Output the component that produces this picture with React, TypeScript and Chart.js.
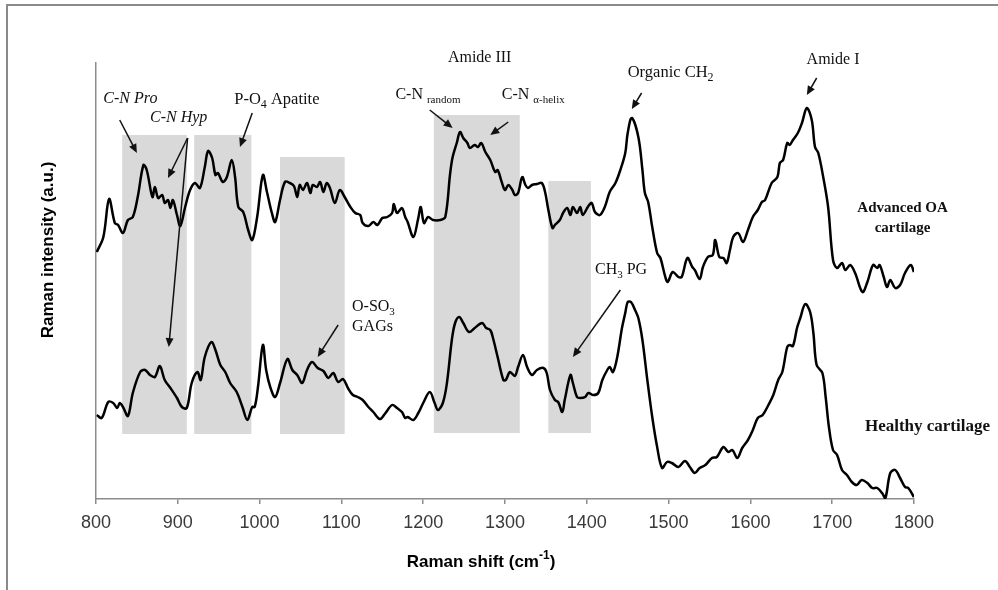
import React, { useEffect, useRef } from 'react';
import { Chart, registerables } from 'chart.js';

Chart.register(...registerables);

// ---------- data ----------
const xTickValues = [800, 900, 1000, 1100, 1200, 1300, 1400, 1500, 1600, 1700, 1800];
const xTickLabels = ['800', '900', '1000', '1100', '1200', '1300', '1400', '1500', '1600', '1700', '1800'];

const oaShift = [
  801, 809, 816, 823, 827, 833, 839, 845, 851, 858,
  862, 869, 872, 876, 881, 884, 888, 891, 894, 899,
  903, 909, 915, 921, 927, 933, 937, 942, 946, 949,
  955, 960, 966, 970, 974, 980, 986, 991, 997, 1004,
  1009, 1015, 1019, 1025, 1031, 1037, 1042, 1046, 1049, 1053,
  1058, 1062, 1065, 1070, 1074, 1078, 1082, 1086, 1092, 1098,
  1104, 1111, 1117, 1123, 1126, 1133, 1139, 1144, 1150, 1156,
  1162, 1164, 1168, 1174, 1178, 1181, 1188, 1194, 1197, 1201,
  1206, 1212, 1221, 1227, 1233, 1236, 1241, 1245, 1249, 1254,
  1257, 1263, 1267, 1271, 1276, 1282, 1288, 1291, 1296, 1300,
  1304, 1309, 1312, 1316, 1321, 1325, 1328, 1333, 1339, 1345,
  1349, 1353, 1358, 1361, 1367, 1371, 1376, 1380, 1383, 1388,
  1392, 1395, 1402, 1406, 1410, 1416, 1422, 1428, 1435, 1441,
  1447, 1450, 1455, 1463, 1468, 1471, 1475, 1480, 1486, 1490,
  1496, 1499, 1505, 1512, 1516, 1523, 1529, 1532, 1538, 1542,
  1548, 1554, 1557, 1562, 1567, 1571, 1575, 1579, 1585, 1591,
  1597, 1603, 1609, 1614, 1618, 1626, 1633, 1636, 1640, 1645,
  1648, 1652, 1658, 1663, 1669, 1675, 1679, 1683, 1689, 1695,
  1701, 1706, 1712, 1716, 1722, 1728, 1737, 1743, 1750, 1755,
  1758, 1763, 1767, 1771, 1777, 1783, 1789, 1796, 1800,
];
const oaIntensity = [
  247, 262, 300, 276, 274, 266, 279, 282, 302, 334,
  329, 302, 312, 301, 304, 296, 299, 291, 299, 284,
  273, 292, 309, 316, 311, 332, 348, 341, 324, 326,
  317, 322, 339, 322, 292, 287, 269, 259, 282, 324,
  307, 286, 277, 299, 317, 316, 313, 302, 314, 309,
  316, 306, 314, 312, 317, 307, 316, 311, 296, 309,
  302, 292, 286, 284, 276, 273, 277, 274, 281, 282,
  286, 295, 286, 291, 282, 277, 262, 281, 292, 276,
  282, 279, 279, 282, 326, 342, 356, 367, 361, 356,
  351, 354, 352, 356, 347, 339, 327, 329, 317, 309,
  314, 309, 304, 306, 322, 314, 311, 314, 315, 316,
  307, 289, 271, 274, 279, 286, 291, 284, 292, 286,
  292, 284, 293, 296, 287, 284, 292, 307, 316, 329,
  346, 366, 381, 362, 329, 306, 297, 272, 246, 241,
  222, 217, 227, 222, 222, 241, 232, 229, 220, 232,
  242, 244, 259, 242, 241, 236, 249, 262, 266, 257,
  269, 282, 289, 297, 299, 316, 322, 336, 339, 356,
  354, 359, 366, 376, 391, 379, 352, 346, 322, 292,
  239, 231, 236, 229, 234, 226, 207, 217, 234, 231,
  234, 222, 212, 219, 211, 214, 226, 234, 227,
];

const healthyShift = [
  801, 807, 815, 821, 826, 829, 833, 839, 845, 854,
  860, 866, 872, 878, 884, 891, 899, 905, 911, 917,
  924, 928, 933, 941, 946, 952, 958, 964, 972, 979,
  985, 991, 994, 998, 1004, 1008, 1013, 1019, 1025, 1034,
  1040, 1046, 1052, 1058, 1064, 1071, 1078, 1084, 1090, 1096,
  1102, 1108, 1114, 1120, 1126, 1133, 1139, 1147, 1153, 1162,
  1168, 1174, 1178, 1181, 1188, 1194, 1200, 1208, 1214, 1218,
  1224, 1229, 1235, 1239, 1244, 1249, 1256, 1263, 1272, 1277,
  1282, 1285, 1291, 1298, 1301, 1306, 1312, 1316, 1322, 1327,
  1333, 1339, 1347, 1351, 1355, 1361, 1365, 1370, 1373, 1380,
  1383, 1388, 1392, 1398, 1402, 1408, 1414, 1419, 1425, 1428,
  1432, 1437, 1443, 1447, 1450, 1454, 1459, 1463, 1468, 1474,
  1480, 1486, 1492, 1498, 1504, 1512, 1520, 1526, 1532, 1538,
  1545, 1553, 1559, 1567, 1573, 1578, 1584, 1590, 1597, 1603,
  1609, 1615, 1622, 1628, 1634, 1639, 1645, 1648, 1652, 1657,
  1661, 1667, 1673, 1677, 1681, 1688, 1692, 1696, 1701, 1706,
  1712, 1718, 1724, 1730, 1736, 1743, 1749, 1755, 1761, 1765,
  1771, 1777, 1783, 1789, 1793, 1800,
];
const healthyIntensity = [
  84, 81, 97, 96, 91, 96, 92, 83, 106, 127,
  129, 124, 122, 133, 119, 111, 101, 92, 91, 116,
  127, 119, 142, 157, 149, 134, 127, 116, 107, 92,
  79, 92, 92, 112, 154, 129, 112, 102, 116, 140,
  129, 124, 116, 129, 137, 131, 128, 121, 126, 117,
  120, 111, 104, 102, 99, 92, 87, 80, 85, 94,
  91, 87, 81, 82, 79, 86, 96, 107, 96, 89,
  96, 116, 159, 176, 182, 176, 167, 171, 176, 171,
  169, 162, 142, 119, 119, 127, 123, 132, 144, 132,
  124, 129, 131, 126, 109, 99, 97, 87, 99, 124,
  116, 102, 101, 102, 106, 104, 106, 119, 129, 132,
  127, 141, 171, 186, 197, 197, 189, 181, 159, 119,
  82, 52, 31, 37, 36, 32, 38, 32, 26, 31,
  34, 41, 42, 52, 47, 49, 41, 51, 59, 69,
  81, 84, 94, 104, 119, 127, 152, 154, 153, 171,
  181, 195, 187, 166, 134, 126, 102, 72, 49, 44,
  29, 24, 17, 14, 19, 16, 11, 11, 6, 1,
  26, 29, 21, 12, 11, 2,
];

// shaded bands (Raman shift range, intensity range)
const bandStart = [832, 920, 1025, 1213, 1353];
const bandEnd = [911, 990, 1104, 1318, 1405];
const bandTop = [364, 364, 342, 384, 318];
const bandBottom = [65, 65, 65, 66, 66];

// ---------- annotation config ----------
type Part = { t: string; s?: 'sub' | 'sup' };
type Label = { parts: Part[]; x: number; y: number; align: 'left' | 'center'; size: number; italic?: boolean; bold?: boolean };

const labels: Label[] = [
  { parts: [{ t: 'Amide III' }], x: 1269, y: 441, align: 'center', size: 16 },
  { parts: [{ t: 'Organic CH' }, { t: '2', s: 'sub' }], x: 1450, y: 426, align: 'left', size: 16.5 },
  { parts: [{ t: 'Amide I' }], x: 1701, y: 439, align: 'center', size: 16 },
  { parts: [{ t: 'C-N Pro' }], x: 809, y: 400, align: 'left', size: 16, italic: true },
  { parts: [{ t: 'C-N Hyp' }], x: 866, y: 381, align: 'left', size: 16, italic: true },
  { parts: [{ t: 'P-O' }, { t: '4', s: 'sub' }, { t: ' Apatite' }], x: 969, y: 399, align: 'left', size: 16.5 },
  { parts: [{ t: 'C-N ' }, { t: 'random', s: 'sub' }], x: 1166, y: 404, align: 'left', size: 16 },
  { parts: [{ t: 'C-N ' }, { t: 'α-helix', s: 'sub' }], x: 1296, y: 404, align: 'left', size: 16 },
  { parts: [{ t: 'O-SO' }, { t: '3', s: 'sub' }], x: 1113, y: 192, align: 'left', size: 16 },
  { parts: [{ t: 'GAGs' }], x: 1113, y: 172, align: 'left', size: 16 },
  { parts: [{ t: 'CH' }, { t: '3', s: 'sub' }, { t: ' PG' }], x: 1410, y: 229, align: 'left', size: 16 },
  { parts: [{ t: 'Advanced OA' }], x: 1786, y: 291, align: 'center', size: 15, bold: true },
  { parts: [{ t: 'cartilage' }], x: 1786, y: 271, align: 'center', size: 15, bold: true },
  { parts: [{ t: 'Healthy cartilage' }], x: 1740, y: 72, align: 'left', size: 17, bold: true },
];

// arrows: [fromShift, fromIntensity, toShift, toIntensity]
const arrows: number[][] = [
  [829, 379, 850, 346],
  [912, 361, 888, 321],
  [912, 361, 889, 152],
  [991, 386, 976, 352],
  [1208, 389, 1236, 371],
  [1304, 377, 1282, 364],
  [1467, 406, 1455, 390],
  [1681, 421, 1669, 404],
  [1096, 174, 1071, 142],
  [1441, 209, 1383, 142],
];

const SERIF = '"Liberation Serif", "Times New Roman", serif';
const SANS = '"Liberation Sans", Arial, sans-serif';

function drawRich(ctx: CanvasRenderingContext2D, parts: Part[], x: number, y: number, size: number, family: string, style: string, weight: string, align: string) {
  const base = `${style} ${weight} ${size}px ${family}`;
  const small = `${style} ${weight} ${Math.round(size * 0.7)}px ${family}`;
  let w = 0;
  for (const p of parts) {
    ctx.font = p.s ? small : base;
    w += ctx.measureText(p.t).width;
  }
  let cx = align === 'center' ? x - w / 2 : align === 'right' ? x - w : x;
  ctx.textAlign = 'left';
  ctx.textBaseline = 'middle';
  for (const p of parts) {
    ctx.font = p.s ? small : base;
    const dy = p.s === 'sub' ? size * 0.32 : p.s === 'sup' ? -size * 0.35 : 0;
    ctx.fillText(p.t, cx, y + dy);
    cx += ctx.measureText(p.t).width;
  }
}

function drawArrow(ctx: CanvasRenderingContext2D, x1: number, y1: number, x2: number, y2: number) {
  const dx = x2 - x1, dy = y2 - y1;
  const len = Math.hypot(dx, dy);
  const ux = dx / len, uy = dy / len;
  const hl = 9, hw = 4;
  ctx.beginPath();
  ctx.moveTo(x1, y1);
  ctx.lineTo(x2 - ux * hl * 0.8, y2 - uy * hl * 0.8);
  ctx.stroke();
  ctx.beginPath();
  ctx.moveTo(x2, y2);
  ctx.lineTo(x2 - ux * hl - uy * hw, y2 - uy * hl + ux * hw);
  ctx.lineTo(x2 - ux * hl + uy * hw, y2 - uy * hl - ux * hw);
  ctx.closePath();
  ctx.fill();
}

const decorPlugin = {
  id: 'decor',
  beforeDraw(chart: any) {
    const ctx = chart.ctx as CanvasRenderingContext2D;
    ctx.save();
    ctx.fillStyle = '#ffffff';
    ctx.fillRect(0, 0, chart.width, chart.height);
    ctx.strokeStyle = '#8a8a8a';
    ctx.lineWidth = 2;
    ctx.beginPath();
    ctx.moveTo(chart.width, 5);
    ctx.lineTo(7, 5);
    ctx.lineTo(7, chart.height);
    ctx.stroke();
    ctx.restore();
  },
  beforeDatasetsDraw(chart: any) {
    const ctx = chart.ctx as CanvasRenderingContext2D;
    const xs = chart.scales.x, ys = chart.scales.y;
    ctx.save();
    ctx.fillStyle = '#d9d9d9';
    for (let i = 0; i < bandStart.length; i++) {
      const l = xs.getPixelForValue(bandStart[i]);
      const r = xs.getPixelForValue(bandEnd[i]);
      const t = ys.getPixelForValue(bandTop[i]);
      const b = ys.getPixelForValue(bandBottom[i]);
      ctx.fillRect(l, t, r - l, b - t);
    }
    ctx.restore();
  },
  afterDraw(chart: any) {
    const ctx = chart.ctx as CanvasRenderingContext2D;
    const xs = chart.scales.x, ys = chart.scales.y;
    ctx.save();
    ctx.fillStyle = '#111';
    ctx.strokeStyle = '#111';
    ctx.lineWidth = 1.5;
    for (const a of arrows) {
      drawArrow(ctx, xs.getPixelForValue(a[0]), ys.getPixelForValue(a[1]), xs.getPixelForValue(a[2]), ys.getPixelForValue(a[3]));
    }
    for (const l of labels) {
      drawRich(ctx, l.parts, xs.getPixelForValue(l.x), ys.getPixelForValue(l.y), l.size, SERIF,
        l.italic ? 'italic' : 'normal', l.bold ? 'bold' : 'normal', l.align);
    }
    // axis titles
    ctx.fillStyle = '#000';
    drawRich(ctx, [{ t: 'Raman shift (cm' }, { t: '-1', s: 'sup' }, { t: ')' }], (xs.left + xs.right) / 2 - 24, 562, 17, SANS, 'normal', 'bold', 'center');
    ctx.translate(48, 250);
    ctx.rotate(-Math.PI / 2);
    drawRich(ctx, [{ t: 'Raman intensity (a.u.)' }], 0, 0, 17, SANS, 'normal', 'bold', 'center');
    ctx.restore();
  },
};

export default function App() {
  const ref = useRef<HTMLCanvasElement>(null);
  useEffect(() => {
    document.body.style.margin = '0';
    const canvas = ref.current!;
    const chart = new Chart(canvas, {
      type: 'line',
      data: {
        datasets: [
          {
            label: 'Advanced OA cartilage',
            data: oaShift.map((x, i) => ({ x, y: oaIntensity[i] })),
            borderColor: '#000',
            borderWidth: 2.5,
            pointRadius: 0,
            tension: 0.35,
            fill: false,
          },
          {
            label: 'Healthy cartilage',
            data: healthyShift.map((x, i) => ({ x, y: healthyIntensity[i] })),
            borderColor: '#000',
            borderWidth: 2.5,
            pointRadius: 0,
            tension: 0.35,
            fill: false,
          },
        ],
      },
      options: {
        responsive: false,
        animation: false,
        devicePixelRatio: 1,
        layout: { padding: { left: 0, right: 84, top: 63, bottom: 0 } },
        plugins: { legend: { display: false }, tooltip: { enabled: false } },
        scales: {
          x: {
            type: 'linear',
            min: 800,
            max: 1800,
            afterFit: (s: any) => { s.height = 91; },
            afterBuildTicks: (s: any) => { s.ticks = xTickValues.map((v) => ({ value: v })); },
            ticks: {
              font: { family: SANS, size: 18 },
              color: '#3a3a3a',
              padding: 8,
              maxRotation: 0,
              autoSkip: false,
              callback: (_v: any, i: number) => xTickLabels[i],
            },
            grid: { display: true, drawOnChartArea: false, drawTicks: true, tickLength: 5, color: '#8c8c8c', lineWidth: 1.5 },
            border: { display: true, color: '#8c8c8c', width: 1.5 },
          },
          y: {
            min: 0,
            max: 436,
            afterFit: (s: any) => { s.width = 96; },
            ticks: { display: false },
            grid: { display: true, drawOnChartArea: false, drawTicks: false },
            border: { display: true, color: '#8c8c8c', width: 1.5 },
          },
        },
      },
      plugins: [decorPlugin],
    });
    return () => chart.destroy();
  }, []);
  return (
    <div style={{ width: 998, height: 590 }}>
      <canvas ref={ref} width={998} height={590} style={{ display: 'block' }} />
    </div>
  );
}
